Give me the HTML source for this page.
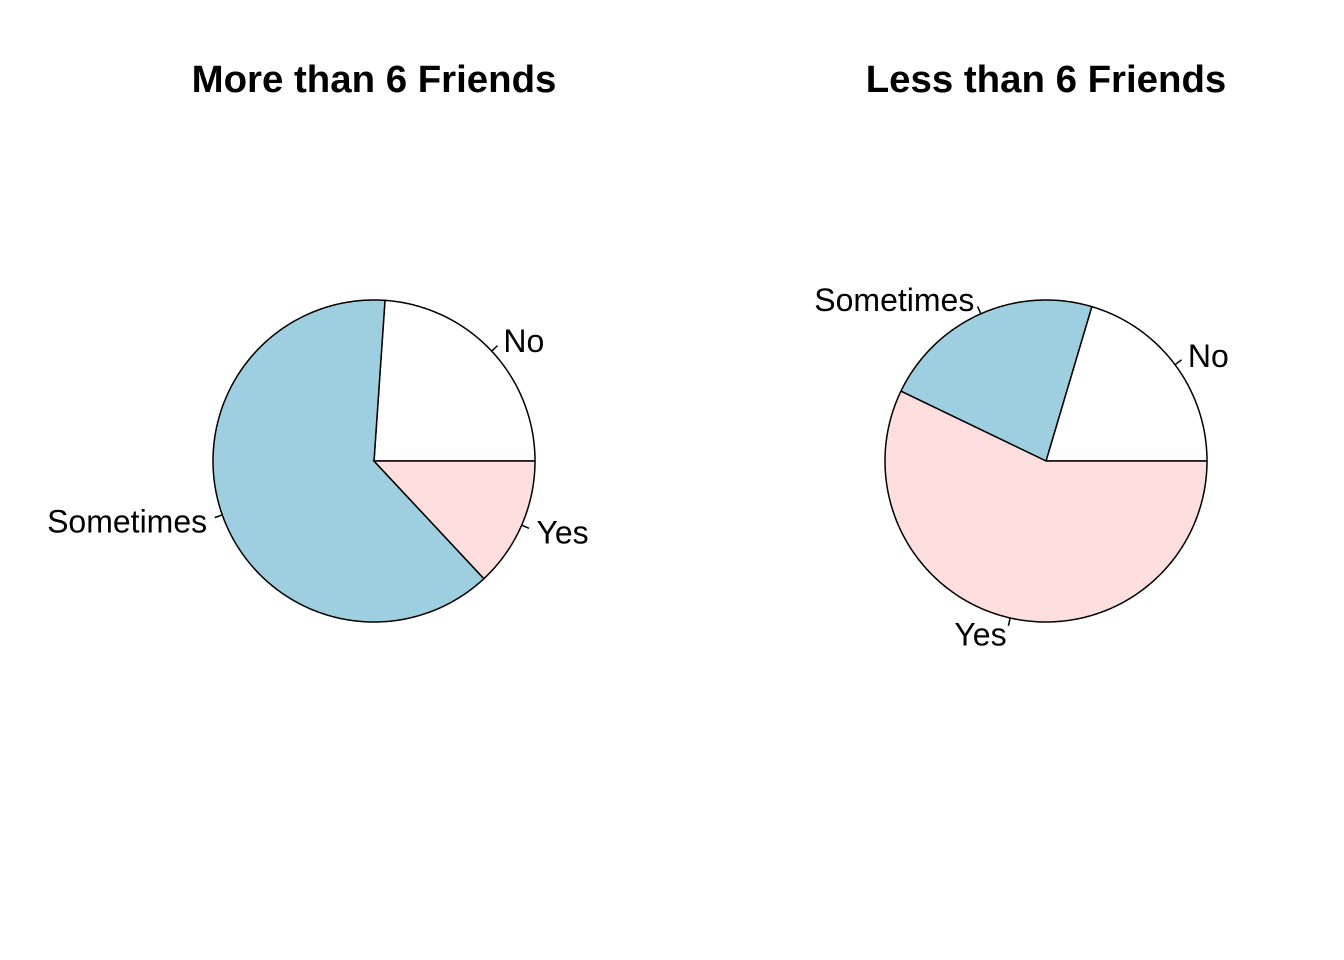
<!DOCTYPE html>
<html><head><meta charset="utf-8"><style>
body{margin:0;background:#fff;}
svg{display:block;font-family:"Liberation Sans",Arial,sans-serif;}
</style></head><body>
<svg id="chart" width="1344" height="960"></svg>
<script>
const categories = ["No", "Sometimes", "Yes"];
const colors = ["#ffffff", "#9ecfe0", "#ffdede"];
const titles = ["More than 6 Friends", "Less than 6 Friends"];
const moreValues = [11, 29, 6];
const lessValues = [10, 11, 28];
const NS = "http://www.w3.org/2000/svg";
const svg = document.getElementById("chart");
function mk(tag, attrs, parent) {
  const e = document.createElementNS(NS, tag);
  for (const k in attrs) e.setAttribute(k, attrs[k]);
  (parent || svg).appendChild(e);
  return e;
}
function drawPie(cx, cy, r, values, title, key) {
  const g = mk("g", {});
  
  
  const t = mk("text", {x: cx, y: 92, "text-anchor": "middle", "font-size": 38.4, "font-weight": "bold"}, g);
  t.textContent = title;
  
  
  const total = values.reduce((a, b) => a + b, 0);
  let cum = 0;
  values.forEach((v, i) => {
    const a0 = cum / total * 2 * Math.PI;
    cum += v;
    const a1 = cum / total * 2 * Math.PI;
    let d = "M" + cx + "," + cy;
    const n = Math.max(2, Math.ceil((a1 - a0) / 0.01));
    for (let k = 0; k <= n; k++) {
      const a = a0 + (a1 - a0) * k / n;
      d += " L" + (cx + r * Math.cos(a)).toFixed(2) + "," + (cy - r * Math.sin(a)).toFixed(2);
    }
    d += " Z";
    const p = mk("path", {d: d, fill: colors[i], stroke: "#000", "stroke-width": 1.5}, g);
    
    
    const am = (a0 + a1) / 2;
    const c = Math.cos(am), s = Math.sin(am);
    const l = mk("line", {x1: cx + r * c, y1: cy - r * s, x2: cx + 1.05 * r * c, y2: cy - 1.05 * r * s, stroke: "#000", "stroke-width": 1.5}, g);
    
    
    const lab = mk("text", {x: cx + 1.1 * r * c, y: cy - 1.1 * r * s + 12, "text-anchor": c > 0 ? "start" : "end", "font-size": 32}, g);
    lab.textContent = categories[i];
    
    
  });
}
drawPie(374, 461, 161, moreValues, titles[0], "more-than-6");
drawPie(1046, 461, 161, lessValues, titles[1], "less-than-6");
</script>
</body></html>
